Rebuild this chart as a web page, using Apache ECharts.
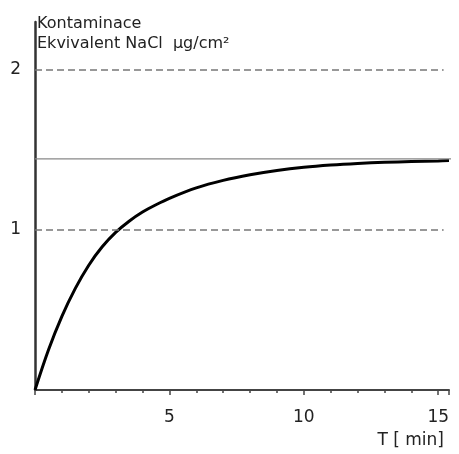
<!DOCTYPE html>
<html>
<head>
<meta charset="utf-8">
<script src="https://cdn.jsdelivr.net/npm/echarts@6/dist/echarts.min.js"></script>
<style>html,body{margin:0;padding:0;background:#fff}#c{width:459px;height:454px}</style>
</head>
<body>
<div id="c"></div>
<script>
const timeMin = [0, 0.5, 1, 1.5, 2, 2.5, 3, 3.5, 4, 4.5, 5, 6, 7, 8, 9, 10, 11, 12, 13, 14, 15, 15.4];
const contamination = [0, 0.25, 0.46, 0.635, 0.78, 0.895, 0.985, 1.055, 1.112, 1.158, 1.198, 1.263, 1.31, 1.345, 1.372, 1.392, 1.406, 1.416, 1.423, 1.428, 1.432, 1.434];
const limitLevels = [1, 2];
const saturationLevel = 1.445;
const xTickLabels = ['5', '10', '15'];
const yTickLabels = ['1', '2'];
const yTitle = 'Kontaminace\nEkvivalent NaCl  µg/cm²';
const xTitle = 'T [ min]';

const font = 'DejaVu Sans';
const chart = echarts.init(document.getElementById('c'), null, {renderer: 'canvas'});
chart.setOption({
  animation: false,
  backgroundColor: '#fff',
  title: [
    {text: yTitle, left: 32, top: 9, textStyle: {fontFamily: font, fontSize: 16, fontWeight: 'normal', color: '#222', lineHeight: 20}},
    {text: xTitle, right: 10, bottom: 0, textStyle: {fontFamily: font, fontSize: 17, fontWeight: 'normal', color: '#222'}}
  ],
  grid: {left: 35, right: 10, top: 22, bottom: 64},
  xAxis: {
    type: 'value', min: 0, max: 15.4, interval: 5,
    axisLine: {lineStyle: {color: '#444', width: 2}},
    axisTick: {show: true, length: 5, lineStyle: {color: '#444', width: 1.5}},
    minorTick: {show: true, splitNumber: 5, length: 3, lineStyle: {color: '#444', width: 1.5}},
    splitLine: {show: false},
    axisLabel: {
      fontFamily: font, fontSize: 17, color: '#222', margin: 19,
      showMaxLabel: false,
      formatter: v => xTickLabels.includes(String(v)) ? String(v) : ''
    }
  },
  yAxis: {
    type: 'value', min: 0, max: 2.3, interval: 1,
    axisLine: {show: true, lineStyle: {color: '#333', width: 2.5}},
    axisTick: {show: false},
    splitLine: {show: false},
    axisLabel: {
      fontFamily: font, fontSize: 17, color: '#222', margin: 14,
      showMaxLabel: false,
      formatter: v => yTickLabels.includes(String(v)) ? String(v) : ''
    }
  },
  series: [
    {
      type: 'line', data: timeMin.map((t, i) => [t, contamination[i]]),
      smooth: 0.35, showSymbol: false, lineStyle: {color: '#000', width: 3},
      markLine: {
        silent: true, symbol: 'none', label: {show: false},
        lineStyle: {color: '#777', width: 1.5, type: [7, 4]},
        data: limitLevels.map(l => [{coord: [0, l]}, {coord: [15.2, l]}])
      }
    },
    {
      type: 'line', clip: false, showSymbol: false,
      data: [[0, saturationLevel], [16, saturationLevel]],
      lineStyle: {color: '#888', width: 1.2}
    }
  ]
});
</script>
</body>
</html>
